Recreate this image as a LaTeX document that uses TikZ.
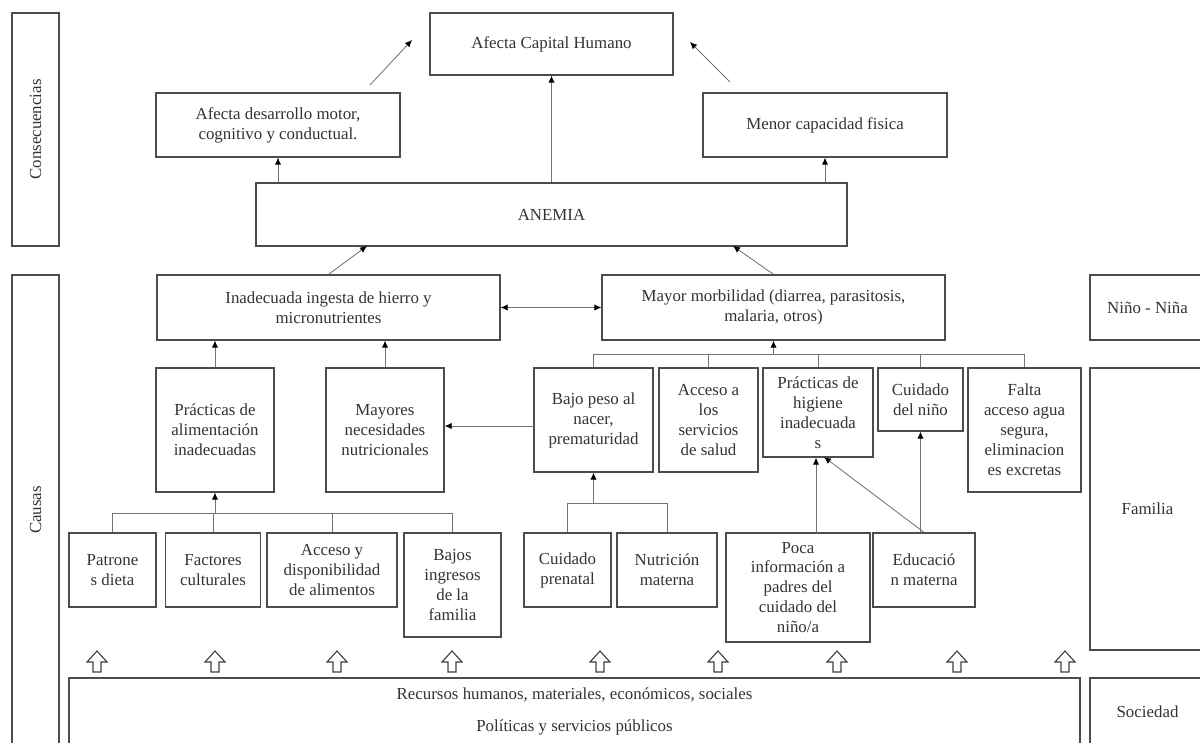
\documentclass[tikz,border=0pt]{standalone}
\usepackage{fontspec}
\setmainfont{Liberation Serif}
\usetikzlibrary{arrows.meta}

\tikzset{
    sz/.style 2 args={minimum width=#1*0.025cm, minimum height=#2*0.025cm},
    con/.style={draw=black!55, line width=0.6pt},
    arr/.style={con, -{Latex[length=5pt, width=4.5pt, color=black]}},
    darr/.style={con, {Latex[length=5pt, width=4.5pt, color=black]}-{Latex[length=5pt, width=4.5pt, color=black]}},
    hollow/.style={draw=black!75, line width=0.8pt, fill=white}
}

\begin{document}
\begin{tikzpicture}[x=0.025cm, y=-0.025cm,
    every node/.style={rectangle, draw=black!70, line width=0.9pt, align=center, inner sep=1pt, text=black!80, font=\fontsize{12}{14.2}\selectfont}]
    \useasboundingbox (0,0) rectangle (1200,742);

    % side labels
    \node[sz={233}{47}, rotate=90] (cons) at (35.5,129.5) {Consecuencias};
    \node[sz={470}{47}, rotate=90] (causas) at (35.5,510) {Causas};
    \node[sz={115}{65}] (nino) at (1147.5,307.5) {Niño - Niña};
    \node[sz={115}{282}] (fam) at (1147.5,509) {Familia};
    \node[sz={115}{67}] (soc) at (1147.5,711.5) {Sociedad};

    % consecuencias
    \node[sz={243}{62}] (cap) at (551.5,44) {Afecta Capital Humano};
    \node[sz={244}{64}] (des) at (278,125) {Afecta desarrollo motor,\\cognitivo y conductual.};
    \node[sz={244}{64}] (menor) at (825,125) {Menor capacidad fisica};
    \node[sz={591}{63}] (anemia) at (551.5,214.5) {ANEMIA};

    % causas
    \node[sz={343}{65}] (ingesta) at (328.5,307.5) {Inadecuada ingesta de hierro y\\micronutrientes};
    \node[sz={343}{65}] (morb) at (773.5,307.5) {Mayor morbilidad (diarrea, parasitosis,\\malaria, otros)};

    \node[sz={118}{124}] (palim) at (215,430) {Prácticas de\\alimentación\\inadecuadas};
    \node[sz={118}{124}] (neces) at (385,430) {Mayores\\necesidades\\nutricionales};
    \node[sz={119}{104}] (bajo) at (593.5,420) {Bajo peso al\\nacer,\\prematuridad};
    \node[sz={99}{104}] (acc) at (708.5,420) {Acceso a\\los\\servicios\\de salud};
    \node[sz={110}{89}] (hig) at (818,412.5) {Prácticas de\\higiene\\inadecuada\\s};
    \node[sz={85}{63}] (cuid) at (920.5,399.5) {Cuidado\\del niño};
    \node[sz={113}{124}] (agua) at (1024.5,430) {Falta\\acceso agua\\segura,\\eliminacion\\es excretas};

    \node[sz={87}{74}] (pat) at (112.5,570) {Patrone\\s dieta};
    \node[sz={95}{74}] (fact) at (213,570) {Factores\\culturales};
    \node[sz={130}{74}] (disp) at (332,570) {Acceso y\\disponibilidad\\de alimentos};
    \node[sz={97}{104}] (ingr) at (452.5,585) {Bajos\\ingresos\\de la\\familia};
    \node[sz={87}{74}] (pren) at (567.5,570) {Cuidado\\prenatal};
    \node[sz={100}{74}] (nutm) at (667,570) {Nutrición\\materna};
    \node[sz={144}{109}] (poca) at (798,587.5) {Poca\\información a\\padres del\\cuidado del\\niño/a};
    \node[sz={102}{74}] (edu) at (924,570) {Educació\\n materna};

    \node[sz={1011}{67}] (rec) at (574.5,711.5) {\rule{0pt}{0.2cm}Recursos humanos, materiales, económicos, sociales\\[0.3cm]Políticas y servicios públicos};

    % free arrow ends
    \coordinate (dA) at (370,85);
    \coordinate (dB) at (412,40);
    \coordinate (mA) at (730,82);
    \coordinate (mB) at (690,42);
    \coordinate (anL) at (367,246);
    \coordinate (anR) at (733,246);
    \coordinate (bw) at (534,426);
    \coordinate (mh) at (773.5,354);
    \coordinate (lh) at (215,513);
    \coordinate (bh) at (593.5,503);
    \coordinate (pt) at (816,533);
    \coordinate (hs) at (824,457);

    \draw[arr] (anemia.north) -- (cap.south);
    \draw[arr] (anemia.north -| des) -- (des.south);
    \draw[arr] (anemia.north -| menor) -- (menor.south);
    \draw[arr] (dA) -- (dB);
    \draw[arr] (mA) -- (mB);

    \draw[arr] (ingesta.north) -- (anL);
    \draw[arr] (morb.north) -- (anR);
    \draw[darr] (ingesta.east) -- (morb.west);

    \draw[arr] (palim.north) -- (palim.north |- ingesta.south);
    \draw[arr] (neces.north) -- (neces.north |- ingesta.south);
    \draw[arr] (bw) -- (bw -| neces.east);

    \draw[con] (bajo.north) -- (bajo.north |- mh) -| (agua.north);
    \foreach \n in {acc,hig,cuid}
        \draw[con] (\n.north) -- (\n.north |- mh);
    \draw[arr] (mh) -- (morb.south);

    \draw[con] (pat.north) -- (pat.north |- lh) -| (ingr.north);
    \foreach \n in {fact,disp}
        \draw[con] (\n.north) -- (\n.north |- lh);
    \draw[arr] (lh) -- (palim.south);

    \draw[con] (pren.north) -- (pren.north |- bh) -| (nutm.north);
    \draw[arr] (bh) -- (bajo.south);

    \draw[arr] (pt) -- (pt |- hig.south);
    \draw[arr] (edu.north) -- (hs);
    \draw[arr] (edu.north -| cuid) -- (cuid.south);

    % hollow arrows from sociedad
    \foreach \x in {97,215,337,452,600,718,837,957,1065}
        \draw[hollow] (\x-4,672) -- (\x-4,662) -- (\x-10,662) -- (\x,651)
            -- (\x+10,662) -- (\x+4,662) -- (\x+4,672) -- cycle;
\end{tikzpicture}
\end{document}
